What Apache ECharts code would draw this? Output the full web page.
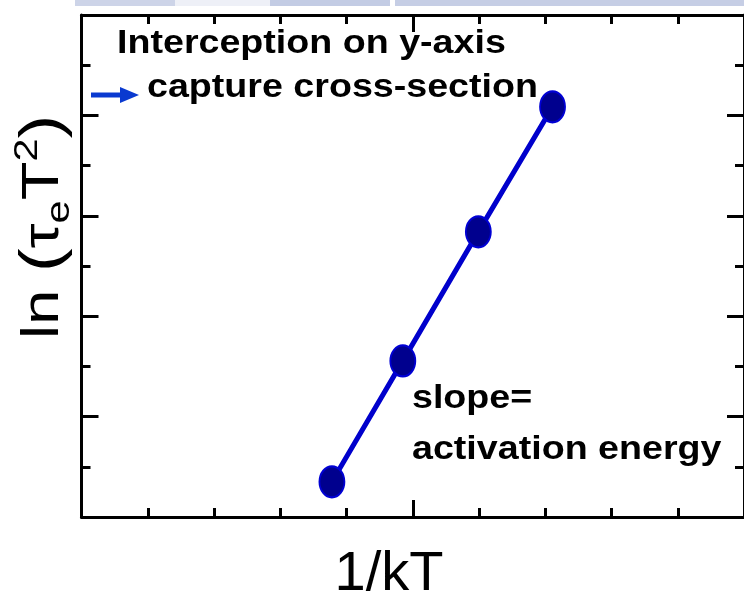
<!DOCTYPE html>
<html>
<head>
<meta charset="utf-8">
<script src="https://cdn.jsdelivr.net/npm/echarts@6/dist/echarts.min.js"></script>
<style>
html,body{margin:0;padding:0;background:#fff;}
#chart{width:744px;height:596px;}
</style>
</head>
<body>
<div id="chart"></div>
<script>
// ---- data ----
const invKT = [3.78, 4.85, 5.99, 7.11];       // 1/kT (arbitrary units)
const lnTauT2 = [0.70, 3.11, 5.68, 8.17];     // ln(tau_e T^2) (arbitrary units)
const xRange = [0, 10];
const yRange = [0, 10];
const xMajor = 5;
const yMajor = 2;
const xLabel = '1/kT';
const noteTop = ['Interception on y-axis', 'capture cross-section'];
const noteSlope = ['slope=', 'activation energy'];

const chart = echarts.init(document.getElementById('chart'), null, {renderer: 'canvas'});

const axisLine = {show: true, onZero: false, lineStyle: {color: '#000', width: 3}};
const majorTick = {show: true, inside: true, length: 17, lineStyle: {color: '#000', width: 3}};
function minorTick(n) {
  return {show: true, splitNumber: n, length: 9, lineStyle: {color: '#000', width: 3}};
}
function xAx(pos) {
  return {type: 'value', position: pos, min: xRange[0], max: xRange[1], interval: xMajor,
    axisLine: axisLine, axisTick: majorTick, minorTick: minorTick(5),
    axisLabel: {show: false}, splitLine: {show: false}, minorSplitLine: {show: false}};
}
function yAx(pos) {
  return {type: 'value', position: pos, min: yRange[0], max: yRange[1], interval: yMajor,
    axisLine: axisLine, axisTick: majorTick, minorTick: minorTick(2),
    axisLabel: {show: false}, splitLine: {show: false}, minorSplitLine: {show: false}};
}

const boldFont = 'bold 33px "Liberation Sans", Arial, sans-serif';
const sx = 1.14;
const ff = '"Liberation Sans", Arial, sans-serif';

const option = {
  animation: false,
  backgroundColor: '#fff',
  grid: {left: 81.5, top: 15, width: 667.5, height: 502, containLabel: false},
  xAxis: [xAx('bottom'), xAx('top')],
  yAxis: [yAx('left'), yAx('right')],
  series: [{
    type: 'line',
    xAxisIndex: 0, yAxisIndex: 0,
    data: invKT.map((x, i) => [x, lnTauT2[i]]),
    symbol: 'circle',
    symbolSize: [25, 31],
    showAllSymbol: true,
    lineStyle: {color: '#0000cc', width: 5},
    itemStyle: {color: '#00008e', borderColor: '#0000d4', borderWidth: 2},
    z: 3
  }],
  graphic: [
    // faint band at the top edge of the source picture
    {type: 'rect', shape: {x: 75, y: 0, width: 100, height: 6}, style: {fill: '#cdd4e8'}, silent: true},
    {type: 'rect', shape: {x: 175, y: 0, width: 95, height: 6}, style: {fill: '#eef0f7'}, silent: true},
    {type: 'rect', shape: {x: 270, y: 0, width: 120, height: 6}, style: {fill: '#c3cce4'}, silent: true},
    {type: 'rect', shape: {x: 395, y: 0, width: 349, height: 6}, style: {fill: '#c6cee5'}, silent: true},
    // text annotations
    {type: 'text', x: 117, y: 44, scaleX: sx, style: {text: noteTop[0], font: boldFont, fill: '#000', textAlign: 'left', textVerticalAlign: 'middle'}},
    {type: 'text', x: 147, y: 88, scaleX: sx, style: {text: noteTop[1], font: boldFont, fill: '#000', textAlign: 'left', textVerticalAlign: 'middle'}},
    {type: 'text', x: 412, y: 399, scaleX: sx, style: {text: noteSlope[0], font: boldFont, fill: '#000', textAlign: 'left', textVerticalAlign: 'middle'}},
    {type: 'text', x: 412, y: 450, scaleX: sx, style: {text: noteSlope[1], font: boldFont, fill: '#000', textAlign: 'left', textVerticalAlign: 'middle'}},
    // arrow
    {type: 'line', shape: {x1: 91, y1: 95, x2: 122, y2: 95}, style: {stroke: '#0a3ad0', lineWidth: 5}},
    {type: 'polygon', shape: {points: [[120, 87], [139, 95], [120, 103]]}, style: {fill: '#0a3ad0'}},
    // axis titles
    {type: 'text', x: 389, y: 575, style: {text: xLabel, font: '56px ' + ff, fill: '#000', textAlign: 'center', textVerticalAlign: 'middle'}},
    {type: 'text', x: 44, y: 227, rotation: Math.PI / 2, scaleX: 1.22,
      style: {
        text: '{a|ln }{p|(}{a|τ}{b|e}{a|T}{c|2}{p|)}',
        textAlign: 'center', textVerticalAlign: 'middle',
        rich: {
          a: {fontSize: 52, fontFamily: ff, fill: '#000', lineHeight: 66},
          p: {fontSize: 58, fontFamily: ff, fill: '#000', lineHeight: 66},
          b: {fontSize: 34, fontFamily: ff, fill: '#000', verticalAlign: 'bottom', lineHeight: 66},
          c: {fontSize: 34, fontFamily: ff, fill: '#000', verticalAlign: 'top', lineHeight: 66}
        }
      }}
  ]
};
chart.setOption(option);
</script>
</body>
</html>
